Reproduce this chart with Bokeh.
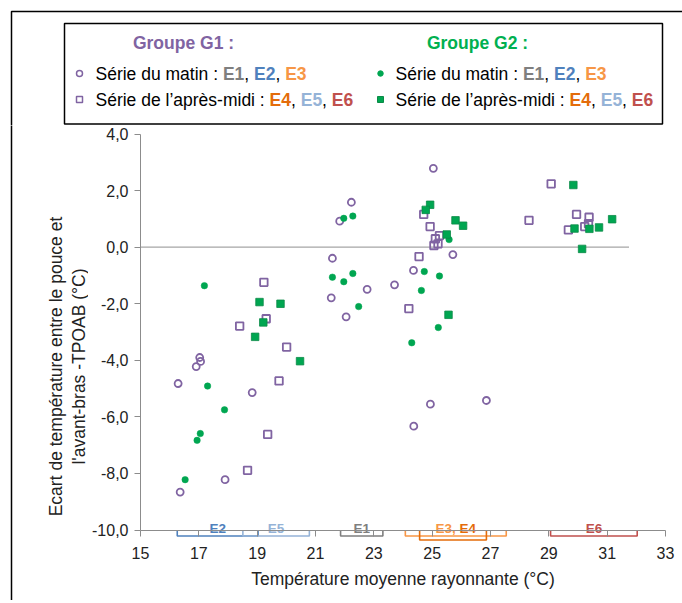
import math
from bokeh.plotting import figure
from bokeh.layouts import column, row
from bokeh.models import Range1d, FixedTicker
from bokeh.core.properties import value
from bokeh.embed import file_html
from bokeh.resources import INLINE

# ---------------- data ----------------
# Groupe G1 - série du matin (open circles)
g1_matin_x = [25.04, 22.23, 21.83, 21.58, 25.71, 24.36, 22.77, 23.71, 21.54, 22.05,
              24.94, 26.86, 24.37, 17.03, 17.06, 16.91, 16.29, 18.83, 17.90, 16.36]
g1_matin_y = [2.79, 1.59, 0.92, -0.39, -0.26, -0.82, -1.49, -1.33, -1.79, -2.46,
              -5.55, -5.42, -6.33, -3.90, -4.04, -4.22, -4.82, -5.14, -8.22, -8.66]
# Groupe G1 - série de l'après-midi (open squares)
g1_am_x = [19.23, 19.31, 18.40, 20.01, 19.75, 19.36, 18.67, 24.71, 24.93, 25.25, 25.11,
           25.20, 25.06, 24.55, 24.20, 29.08, 28.32, 29.95, 30.38, 30.23, 30.36, 29.67]
g1_am_y = [-1.24, -2.53, -2.79, -3.53, -4.73, -6.62, -7.89, 1.16, 0.73, 0.41, 0.30,
           0.12, 0.06, -0.33, -2.17, 2.24, 0.95, 1.16, 1.06, 0.73, 0.83, 0.61]
# Groupe G2 - série du matin (filled circles)
g2_matin_x = [17.19, 17.30, 17.88, 17.05, 16.94, 16.53, 21.97, 22.28, 25.58, 24.73,
              25.25, 21.58, 22.28, 21.97, 24.63, 22.48, 25.21, 24.30]
g2_matin_y = [-1.36, -4.91, -5.75, -6.59, -6.83, -8.22, 1.02, 1.10, 0.27, -0.86,
              -1.02, -1.06, -0.93, -1.22, -1.53, -2.10, -2.84, -3.38]
# Groupe G2 - série de l'après-midi (filled squares)
g2_am_x = [19.08, 19.80, 19.21, 18.93, 20.47, 24.93, 24.78, 25.80, 26.06, 25.50,
           25.56, 29.84, 31.17, 29.88, 30.39, 30.72, 30.14]
g2_am_y = [-1.94, -2.00, -2.66, -3.17, -4.03, 1.50, 1.32, 0.95, 0.76, 0.45,
           -2.39, 2.20, 0.99, 0.66, 0.65, 0.70, -0.06]

# temperature ranges of the experiments (brackets under the x axis)
exp_names = ["E2", "E5", "E1", "E3", "E4", "E6"]
exp_start = [16.26, 18.51, 21.86, 24.08, 24.57, 29.06]
exp_end = [19.03, 20.79, 23.31, 27.54, 26.86, 32.03]

zero_x = [15, 31.75]
zero_y = [0, 0]

x_ticks = [15, 17, 19, 21, 23, 25, 27, 29, 31, 33]
y_ticks = [-10, -8, -6, -4, -2, 0, 2, 4]
y_tick_labels = ["-10,0", "-8,0", "-6,0", "-4,0", "-2,0", "0,0", "2,0", "4,0"]
X_AX = (15, 33)
Y_AX = (-10, 4)

# ---------------- styles ----------------
FONT = "Liberation Sans"
PURPLE = "#8064a2"
GREEN = "#00a651"
GREEN_D = "#0b8a47"
EC = {"E1": "#7f7f7f", "E2": "#4f81bd", "E3": "#f79646", "E4": "#e46c0a",
      "E5": "#95b3d7", "E6": "#c0504d"}
AXIS = "#8c8c8c"
TXT = "#222222"

W = 682
HL = 125          # legend strip height
WT = 88           # y-title strip width
FW, FH = W - WT, 475
HM = FH
# pixel geometry of the plotting area (page coordinates)
AX_L, AX_R = 140.0, 665.0        # x = 15 and x = 33
AX_T, AX_B = 133.6, 529.5        # y = 4 and y = -10
PXX = (AX_R - AX_L) / (X_AX[1] - X_AX[0])
PXU = (AX_B - AX_T) / (Y_AX[1] - Y_AX[0])
XMIN = X_AX[0] - (AX_L - WT) / PXX
XMAX = XMIN + FW / PXX
YMAX = Y_AX[0] + (AX_B - HL) / PXU
YMIN = YMAX - FH / PXU


def strip(w, h):
    f = figure(frame_width=w, frame_height=h, min_border=0, min_border_left=0,
               min_border_right=0, min_border_top=0, min_border_bottom=0,
               x_range=Range1d(0, w), y_range=Range1d(0, h),
               x_axis_location=None, y_axis_location=None,
               output_backend="svg", toolbar_location=None)
    f.outline_line_color = None
    f.grid.visible = False
    f.background_fill_color = "white"
    f.border_fill_color = "white"
    return f


# ---------------- main chart ----------------
p = figure(frame_width=FW, frame_height=FH, min_border=0, min_border_left=0, min_border_right=0,
           min_border_top=0, min_border_bottom=0,
           x_range=Range1d(XMIN, XMAX), y_range=Range1d(YMIN, YMAX),
           output_backend="svg", toolbar_location=None)
p.outline_line_color = None
p.grid.visible = False
p.background_fill_color = "white"
p.border_fill_color = "white"

for ax in (p.xaxis, p.yaxis):
    ax.axis_line_color = AXIS
    ax.major_tick_line_color = AXIS
    ax.minor_tick_line_color = None
    ax.major_tick_in = 0
    ax.major_tick_out = 6
    ax.major_label_text_font = FONT
    ax.major_label_text_font_size = "16px"
    ax.major_label_text_color = TXT

p.xaxis.ticker = FixedTicker(ticks=x_ticks)
p.yaxis.ticker = FixedTicker(ticks=y_ticks)
p.yaxis.major_label_overrides = {v: s for v, s in zip(y_ticks, y_tick_labels)}
p.xaxis.bounds = X_AX
p.yaxis.bounds = Y_AX
p.xaxis.fixed_location = Y_AX[0]
p.yaxis.fixed_location = X_AX[0]
p.xaxis.major_label_standoff = 11
p.yaxis.major_label_standoff = 6
p.xaxis.axis_label = "Température moyenne rayonnante (°C)"
p.xaxis.axis_label_text_font = FONT
p.xaxis.axis_label_text_font_size = "17.5px"
p.xaxis.axis_label_text_font_style = "normal"
p.xaxis.axis_label_text_color = TXT
p.xaxis.axis_label_standoff = 6

# zero reference line
p.line(zero_x, zero_y, line_color="#a6a6a6", line_width=1.2)

# brackets (experiment temperature ranges)
for name, s, e in zip(exp_names, exp_start, exp_end):
    d = (10 if name == "E4" else 6) / PXU
    p.line([s, s, e, e], [-10, -10 - d, -10 - d, -10], line_color=EC[name], line_width=1.6)

BS = "13.5px"
lab_y = -10 + 2 / PXU
for name, s, e in zip(exp_names, exp_start, exp_end):
    if name in ("E3", "E4"):
        continue
    p.text([(s + e) / 2], [lab_y], text=[name], text_font=value(FONT), text_font_size=value(BS),
           text_font_style="bold", text_color=EC[name], text_align="center",
           text_baseline="alphabetic")

AR = {'S': 667, 'é': 556, 'r': 333, 'i': 222, 'e': 556, ' ': 278, 'd': 556, 'u': 556, 'm': 833,
      'a': 556, 't': 278, 'n': 556, ':': 278, 'l': 222, '’': 222, 'p': 556, 'è': 556, 's': 500,
      '-': 333, ',': 278, 'E': 667}
AB = {'G': 778, 'r': 389, 'o': 611, 'u': 611, 'p': 611, 'e': 556, ' ': 278, ':': 333,
      'E': 667, ',': 278}


def tw(s, size, bold=False):
    tab = AB if bold else AR
    return sum(tab.get(c, 556) for c in s) * size / 1000.0


i3 = exp_names.index("E3")
mid = (exp_start[i3] + exp_end[i3]) / 2
wtot = tw("E3, E4", 13.5, True)
p.text([mid], [lab_y], text=["E3, "], x_offset=-wtot / 2, text_font=value(FONT),
       text_font_size=value(BS), text_font_style="bold", text_color=EC["E3"],
       text_align="left", text_baseline="alphabetic")
p.text([mid], [lab_y], text=["E4"], x_offset=-wtot / 2 + tw("E3, ", 13.5, True),
       text_font=value(FONT), text_font_size=value(BS), text_font_style="bold",
       text_color=EC["E4"], text_align="left", text_baseline="alphabetic")

# series
p.scatter(g1_matin_x, g1_matin_y, marker="circle", size=7, fill_color="white", fill_alpha=0,
          line_color=PURPLE, line_width=1.8)
p.scatter(g1_am_x, g1_am_y, marker="square", size=7.5, fill_color="white", fill_alpha=0,
          line_color=PURPLE, line_width=1.8)
p.scatter(g2_matin_x, g2_matin_y, marker="circle", size=6.5, fill_color=GREEN,
          line_color=GREEN, line_width=0.5)
p.scatter(g2_am_x, g2_am_y, marker="square", size=7.5, fill_color=GREEN,
          line_color=GREEN_D, line_width=0.8)

# ---------------- y-axis title strip ----------------
t = strip(WT, HM)
t.line([11, 11], [-5, HM + 5], line_color="black", line_width=1.5)
for txt, cx in (("Ecart de température entre le pouce et", 55),
                ("l'avant-bras -TPOAB (°C)", 78)):
    t.text([cx], [HM - (366 - HL)], text=[txt], angle=math.pi / 2, text_font=value(FONT),
           text_font_size=value("17.5px"), text_color=TXT, text_align="center",
           text_baseline="middle")

# ---------------- legend strip ----------------
lg = strip(W, HL)


def Y(ytop):
    return HL - ytop


lg.line([11, 11, W + 5], [-5, Y(11), Y(11)], line_color="black", line_width=1.5)
lg.quad(left=[64], right=[662], top=[Y(23)], bottom=[Y(123.5)], fill_alpha=0,
        line_color="black", line_width=1.5)

LS = 17.5
lg.text([183], [Y(42)], text=["Groupe G1 :"], text_font=value(FONT),
        text_font_size=value(f"{LS}px"), text_font_style="bold", text_color=PURPLE,
        text_align="center", text_baseline="middle")
lg.text([477], [Y(42)], text=["Groupe G2 :"], text_font=value(FONT),
        text_font_size=value(f"{LS}px"), text_font_style="bold", text_color="#00b050",
        text_align="center", text_baseline="middle")

row1 = [("Série du matin : ", "black", False), ("E1", EC["E1"], True), (", ", "black", False),
        ("E2", EC["E2"], True), (", ", "black", False), ("E3", EC["E3"], True)]
row2 = [("Série de l’après-midi : ", "black", False), ("E4", EC["E4"], True),
        (", ", "black", False), ("E5", EC["E5"], True), (", ", "black", False),
        ("E6", EC["E6"], True)]


def seg_text(x0, ytop, segs):
    x = x0
    for txt, col, bold in segs:
        lg.text([x], [Y(ytop)], text=[txt], text_font=value(FONT),
                text_font_size=value(f"{LS}px"), text_font_style="bold" if bold else "normal",
                text_color=col, text_align="left", text_baseline="middle")
        x += tw(txt, LS, bold)


R1, R2 = 73, 99
for x0 in (95, 395):
    seg_text(x0, R1, row1)
    seg_text(x0, R2, row2)

lg.scatter([79], [Y(R1)], marker="circle", size=6, fill_alpha=0, line_color=PURPLE, line_width=1.5)
lg.scatter([79], [Y(R2)], marker="square", size=6, fill_alpha=0, line_color=PURPLE, line_width=1.5)
lg.scatter([380], [Y(R1)], marker="circle", size=5.5, fill_color=GREEN, line_color=GREEN)
lg.scatter([380], [Y(R2)], marker="square", size=6, fill_color=GREEN, line_color=GREEN_D)

layout = column(lg, row(t, p, spacing=0), spacing=0)
open("out.html", "w").write(file_html(layout, INLINE))
